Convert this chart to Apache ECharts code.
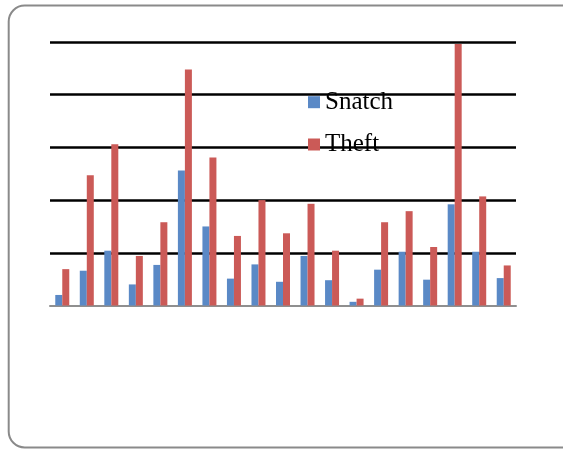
<!DOCTYPE html>
<html>
<head>
<meta charset="utf-8">
<script src="https://cdn.jsdelivr.net/npm/echarts@6/dist/echarts.min.js"></script>
<style>
  html, body { margin: 0; padding: 0; background: #ffffff; }
  #chart { width: 563px; height: 449px; }
</style>
</head>
<body>
<div id="chart"></div>
<script>
// Categories along the x axis (labels are not shown)
const categories = ['1','2','3','4','5','6','7','8','9','10','11','12','13','14','15','16','17','18','19'];

// Series values
const snatch = [2, 6.6, 10.4, 4, 7.7, 25.6, 15, 5.1, 7.8, 4.5, 9.4, 4.8, 0.7, 6.8, 10.2, 4.9, 19.2, 10.2, 5.2];
const theft  = [6.9, 24.7, 30.6, 9.4, 15.8, 44.8, 28.1, 13.2, 20, 13.7, 19.3, 10.4, 1.3, 15.8, 17.9, 11.1, 49.6, 20.7, 7.6];

// Value axis range
const yMin = 0;
const yMax = 50;
const yStep = 10;

const chart = echarts.init(document.getElementById('chart'), null, { renderer: 'canvas' });

chart.setOption({
  animation: false,
  backgroundColor: '#ffffff',
  graphic: [{
    type: 'rect',
    z: -10,
    shape: { x: 8.7, y: 5.5, width: 580, height: 442, r: 16 },
    style: { fill: 'none', stroke: '#8a8a8a', lineWidth: 2 }
  }],
  grid: { left: 50, right: 47, top: 42, bottom: 143.5, containLabel: false },
  legend: {
    orient: 'vertical',
    left: 308,
    top: 89.7,
    padding: 0,
    itemWidth: 12,
    itemHeight: 12,
    itemGap: 17.3,
    itemTextGap: 5,
    icon: 'rect',
    textStyle: {
      fontFamily: '"Liberation Serif", "DejaVu Serif", serif',
      fontSize: 25,
      lineHeight: 24,
      color: '#000000'
    },
    data: ['Snatch', 'Theft']
  },
  xAxis: {
    type: 'category',
    data: categories,
    axisLine: { show: true, lineStyle: { color: '#8f8f8f', width: 2 } },
    axisTick: { show: false },
    axisLabel: { show: false },
    splitLine: { show: false }
  },
  yAxis: {
    type: 'value',
    min: yMin,
    max: yMax,
    interval: yStep,
    axisLine: { show: false },
    axisTick: { show: false },
    axisLabel: { show: false },
    splitLine: { show: true, showMinLine: false, lineStyle: { color: '#000000', width: 2.5 } }
  },
  series: [
    {
      name: 'Snatch',
      type: 'bar',
      data: snatch,
      barWidth: 7,
      barGap: '0%',
      itemStyle: { color: '#5a89c6' }
    },
    {
      name: 'Theft',
      type: 'bar',
      data: theft,
      barWidth: 7,
      barGap: '0%',
      itemStyle: { color: '#cb5a57' }
    }
  ]
});
</script>
</body>
</html>
